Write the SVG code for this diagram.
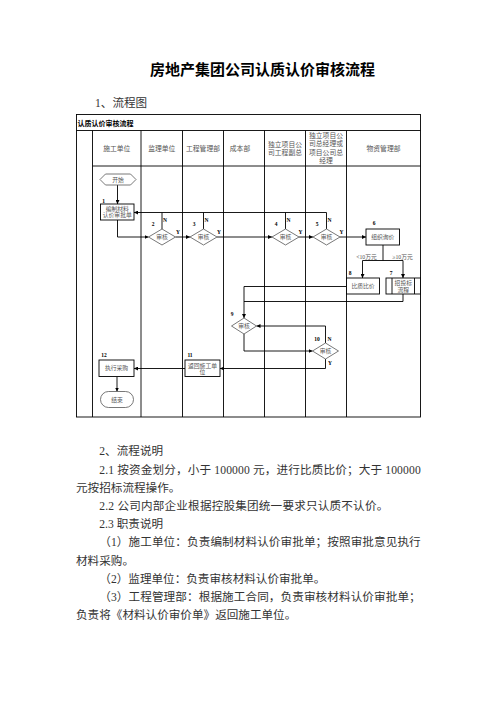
<svg xmlns="http://www.w3.org/2000/svg" width="496" height="702" viewBox="0 0 496 702">
<defs>
<marker id="ah" markerUnits="userSpaceOnUse" markerWidth="5" markerHeight="4" refX="4" refY="2" orient="auto">
<path d="M0,0 L4,2 L0,4 Z" fill="#000"/>
</marker>
<style>
.ln{fill:none;stroke:#000;stroke-width:0.9}
.cn{fill:none;stroke:#000;stroke-width:0.9;marker-end:url(#ah)}
.sh{fill:#fff;stroke:#000;stroke-width:0.9}
.dm{fill:#fff;stroke:#555;stroke-width:0.8}
.hd{font-family:"Liberation Serif","Noto Sans CJK SC",serif;font-size:6.8px;fill:#555;text-anchor:middle;dominant-baseline:central}
.nt{font-family:"Liberation Serif","Noto Sans CJK SC",serif;font-size:5.8px;fill:#555;text-anchor:middle;dominant-baseline:central}
.lb{font-family:"Liberation Serif","Noto Sans CJK SC",serif;font-size:5.5px;font-weight:bold;fill:#000;text-anchor:middle;dominant-baseline:central}
.bd{font-family:"Liberation Serif","Noto Sans CJK SC",serif;font-size:11.6px;fill:#333}
</style>
</defs>
<rect width="496" height="702" fill="#fff"/>

<text x="262.5" y="75" font-family="'Noto Sans CJK SC',sans-serif" font-size="15px" font-weight="bold" fill="#000" text-anchor="middle" textLength="225">房地产集团公司认质认价审核流程</text>
<text x="95" y="107" class="bd" font-size="11px">1、流程图</text>

<g id="table">
<rect x="76.5" y="114.5" width="344" height="302.5" class="ln"/>
<line x1="76.5" y1="130.5" x2="420.5" y2="130.5" class="ln"/>
<line x1="92.5" y1="166" x2="420.5" y2="166" class="ln"/>
<line x1="92.5" y1="130.5" x2="92.5" y2="417" class="ln"/>
<line x1="141" y1="130.5" x2="141" y2="417" class="ln"/>
<line x1="182.5" y1="130.5" x2="182.5" y2="417" class="ln"/>
<line x1="223.5" y1="130.5" x2="223.5" y2="417" class="ln"/>
<line x1="264.5" y1="130.5" x2="264.5" y2="417" class="ln"/>
<line x1="305.5" y1="130.5" x2="305.5" y2="417" class="ln"/>
<line x1="346.5" y1="130.5" x2="346.5" y2="417" class="ln"/>
<text x="77.5" y="122.5" font-family="'Noto Sans CJK SC',sans-serif" font-size="7px" font-weight="bold" fill="#000" dominant-baseline="central">认质认价审核流程</text>
<text x="116.75" y="148" class="hd">施工单位</text>
<text x="161.75" y="148" class="hd">监理单位</text>
<text x="203" y="148" class="hd">工程管理部</text>
<text x="240" y="148" class="hd">成本部</text>
<text x="285" y="144" class="hd">独立项目公</text>
<text x="285" y="152" class="hd">司工程副总</text>
<text x="326" y="135" class="hd">独立项目公</text>
<text x="326" y="143.5" class="hd">司总经理或</text>
<text x="326" y="152" class="hd">项目公司总</text>
<text x="326" y="160.5" class="hd">经理</text>
<text x="383.5" y="148" class="hd">物资管理部</text>
</g>

<g id="connectors">
<line x1="117.5" y1="185" x2="117.5" y2="204" class="cn"/>
<polyline points="326.5,229 326.5,212.5 134,212.5" class="cn"/>
<line x1="162" y1="212.5" x2="162" y2="229" class="ln"/>
<line x1="203.5" y1="212.5" x2="203.5" y2="229" class="ln"/>
<line x1="285.5" y1="212.5" x2="285.5" y2="229" class="ln"/>
<polyline points="117.5,220 117.5,237 148.5,237" class="cn"/>
<line x1="175.5" y1="237" x2="190" y2="237" class="cn"/>
<line x1="217" y1="237" x2="272" y2="237" class="cn"/>
<line x1="299" y1="237" x2="313" y2="237" class="cn"/>
<line x1="340" y1="237" x2="366" y2="237" class="cn"/>
<polyline points="383,245 383,260.5 362.5,260.5 362.5,278" class="cn"/>
<polyline points="383,260.5 403,260.5 403,278" class="cn"/>
<polyline points="346.5,286.5 244,286.5 244,318" class="cn"/>
<polyline points="403,294 403,301.5 244,301.5" class="ln"/>
<polyline points="325.5,343 325.5,326 256.5,326" class="cn"/>
<polyline points="244,334 244,351 312.5,351" class="cn"/>
<polyline points="325.5,359 325.5,368.5 220,368.5" class="cn"/>
<line x1="185" y1="368.5" x2="134" y2="368.5" class="cn"/>
<line x1="117" y1="376.5" x2="117" y2="391.5" class="cn"/>
<text x="366.5" y="256.5" class="nt">&lt;10万元</text>
<text x="402.5" y="256.5" class="nt">≥10万元</text>
</g>

<g id="start">
<polygon points="100,179.5 105.5,174 130.5,174 136,179.5 130.5,185 105.5,185" class="dm"/>
<text x="118" y="179.5" class="nt">开始</text>
</g>
<g id="n1">
<rect x="100.5" y="204" width="33.5" height="16" class="sh"/>
<text x="103.5" y="200.5" class="lb">1</text>
<text x="117.25" y="208.5" class="nt">编制材料</text>
<text x="117.25" y="215" class="nt">认价审批单</text>
</g>
<g id="n2">
<polygon points="148.5,237 162,229 175.5,237 162,245" class="dm"/>
<text x="162" y="237" class="nt">审核</text>
<text x="153" y="223.5" class="lb">2</text>
<text x="165" y="220" class="lb">N</text>
<text x="178" y="231.5" class="lb">Y</text>
</g>
<g id="n3">
<polygon points="190,237 203.5,229 217,237 203.5,245" class="dm"/>
<text x="203.5" y="237" class="nt">审核</text>
<text x="194" y="223.5" class="lb">3</text>
<text x="206.5" y="220" class="lb">N</text>
<text x="219" y="231.5" class="lb">Y</text>
</g>
<g id="n4">
<polygon points="272,237 285.5,229 299,237 285.5,245" class="dm"/>
<text x="285.5" y="237" class="nt">审核</text>
<text x="276" y="223.5" class="lb">4</text>
<text x="288.5" y="220" class="lb">N</text>
<text x="300.5" y="231.5" class="lb">Y</text>
</g>
<g id="n5">
<polygon points="313,237 326.5,229 340,237 326.5,245" class="dm"/>
<text x="326.5" y="237" class="nt">审核</text>
<text x="317" y="223.5" class="lb">5</text>
<text x="329.5" y="220" class="lb">N</text>
<text x="341.5" y="231.5" class="lb">Y</text>
</g>
<g id="n6">
<rect x="366" y="229" width="33.5" height="16" class="sh"/>
<text x="374" y="223" class="lb">6</text>
<text x="382.75" y="237" class="nt">组织询价</text>
</g>
<g id="n8">
<rect x="346.5" y="278" width="33" height="16" class="sh"/>
<text x="350" y="272.5" class="lb">8</text>
<text x="363" y="285.5" class="nt">比质比价</text>
</g>
<g id="n7">
<rect x="386" y="278" width="34.5" height="16" class="sh"/>
<line x1="392" y1="278" x2="392" y2="294" class="ln"/>
<line x1="414.5" y1="278" x2="414.5" y2="294" class="ln"/>
<text x="391" y="272.5" class="lb">7</text>
<text x="403.3" y="282.8" class="nt">招投标</text>
<text x="403.3" y="289.5" class="nt">流程</text>
</g>
<g id="n9">
<polygon points="231.5,326 244,318 256.5,326 244,334" class="dm"/>
<text x="244" y="326" class="nt">审核</text>
<text x="232" y="314" class="lb">9</text>
</g>
<g id="n10">
<polygon points="312.5,351 325.5,343 338.5,351 325.5,359" class="dm"/>
<text x="325.5" y="351" class="nt">审核</text>
<text x="317" y="339" class="lb">10</text>
<text x="329.5" y="339" class="lb">N</text>
<text x="330" y="362.5" class="lb">Y</text>
</g>
<g id="n11">
<rect x="185" y="360" width="35" height="16.5" class="sh"/>
<text x="190" y="354.5" class="lb">11</text>
<text x="202.5" y="365.5" class="nt">返回施工单</text>
<text x="202.5" y="371.8" class="nt">位</text>
</g>
<g id="n12">
<rect x="99" y="360" width="35" height="16.5" class="sh"/>
<text x="104" y="354.5" class="lb">12</text>
<text x="116.5" y="368.3" class="nt">执行采购</text>
</g>
<g id="end">
<rect x="100.5" y="391.5" width="33" height="16" rx="8" class="dm"/>
<text x="117" y="399.5" class="nt">结束</text>
</g>

<g id="body">
<text x="99.3" y="455" class="bd">2、流程说明</text>
<text x="99.3" y="473.6" class="bd" textLength="321.4">2.1 按资金划分，小于 100000 元，进行比质比价；大于 100000</text>
<text x="76" y="492" class="bd">元按招标流程操作。</text>
<text x="99.3" y="510" class="bd" textLength="289">2.2 公司内部企业根据控股集团统一要求只认质不认价。</text>
<text x="99.3" y="528.3" class="bd">2.3 职责说明</text>
<text x="99.3" y="546.3" class="bd" textLength="321.4">（1）施工单位：负责编制材料认价审批单；按照审批意见执行</text>
<text x="76" y="564.6" class="bd">材料采购。</text>
<text x="99.3" y="583" class="bd">（2）监理单位：负责审核材料认价审批单。</text>
<text x="99.3" y="601" class="bd" textLength="321.4">（3）工程管理部：根据施工合同，负责审核材料认价审批单；</text>
<text x="76" y="619" class="bd">负责将《材料认价审价单》返回施工单位。</text>
</g>
</svg>
